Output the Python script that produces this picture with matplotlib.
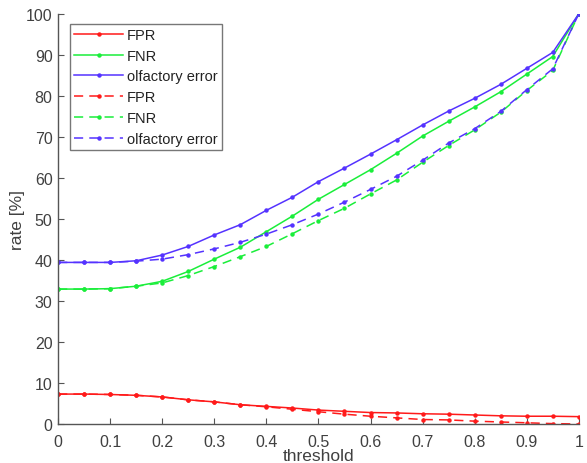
import matplotlib
matplotlib.use("Agg")
import matplotlib.pyplot as plt
import numpy as np

plt.rcParams['font.family'] = ['Liberation Sans', 'DejaVu Sans']

threshold = [0, 0.05, 0.1, 0.15, 0.2, 0.25, 0.3, 0.35, 0.4, 0.45, 0.5,
             0.55, 0.6, 0.65, 0.7, 0.75, 0.8, 0.85, 0.9, 0.95, 1.0]

fpr_a = [7.3, 7.3, 7.2, 7.0, 6.6, 5.9, 5.4, 4.7, 4.3, 3.9, 3.4,
         3.1, 2.8, 2.7, 2.5, 2.4, 2.2, 2.0, 1.9, 1.9, 1.8]
fnr_a = [32.9, 32.9, 33.0, 33.6, 34.8, 37.2, 40.2, 43.1, 46.9, 50.7, 54.8,
         58.4, 62.0, 66.0, 70.2, 73.8, 77.3, 81.0, 85.3, 89.6, 100.0]
olf_a = [39.4, 39.4, 39.4, 39.8, 41.2, 43.3, 46.1, 48.6, 52.1, 55.3, 59.1,
         62.4, 65.8, 69.3, 72.9, 76.3, 79.4, 82.8, 86.7, 90.6, 100.0]

fpr_b = [7.3, 7.3, 7.2, 7.0, 6.6, 5.9, 5.4, 4.7, 4.2, 3.6, 3.0,
         2.4, 1.9, 1.5, 1.1, 1.0, 0.7, 0.5, 0.3, 0.1, 0.0]
fnr_b = [32.9, 32.9, 33.0, 33.6, 34.4, 36.2, 38.4, 40.8, 43.3, 46.4, 49.6,
         52.6, 56.1, 59.5, 63.8, 67.9, 71.7, 76.0, 81.3, 86.2, 100.0]
olf_b = [39.4, 39.4, 39.4, 39.7, 40.2, 41.3, 42.7, 44.3, 46.3, 48.6, 51.2,
         54.1, 57.2, 60.4, 64.3, 68.5, 72.0, 76.2, 81.5, 86.6, 100.0]

labels = ["FPR", "FNR", "olfactory error"]
red, green, blue = '#ff1a1a', '#1aee3a', '#5533ff'

fig = plt.figure(figsize=(5.87, 4.64), dpi=100)
ax = fig.add_axes([0.099, 0.084, 0.887, 0.884])

kw = dict(marker='o', markersize=2.2, linewidth=1.1)
ax.plot(threshold, fpr_a, '-', color=red, label=labels[0], **kw)
ax.plot(threshold, fnr_a, '-', color=green, label=labels[1], **kw)
ax.plot(threshold, olf_a, '-', color=blue, label=labels[2], **kw)
ax.plot(threshold, fpr_b, '--', color=red, label=labels[0], dashes=(6, 4), **kw)
ax.plot(threshold, fnr_b, '--', color=green, label=labels[1], dashes=(6, 4), **kw)
ax.plot(threshold, olf_b, '--', color=blue, label=labels[2], dashes=(6, 4), **kw)

ax.set_xlim(0, 1)
ax.set_ylim(0, 100)
ax.set_xticks(np.arange(0, 1.01, 0.1))
ax.set_xticklabels(['0', '0.1', '0.2', '0.3', '0.4', '0.5', '0.6', '0.7', '0.8', '0.9', '1'])
ax.set_yticks(np.arange(0, 101, 10))
for s in ['top', 'right']:
    ax.spines[s].set_visible(False)
for s in ['left', 'bottom']:
    ax.spines[s].set_color('#555555')
    ax.spines[s].set_linewidth(1.0)
ax.tick_params(direction='in', length=4, color='#555555', labelsize=11.5,
               labelcolor='#404040')
ax.tick_params(axis='x', pad=7.5)
ax.tick_params(axis='y', pad=4)
ax.set_xlabel('threshold', fontsize=12.5, color='#404040', labelpad=-1)
ax.set_ylabel('rate [%]', fontsize=12.5, color='#404040', labelpad=1)

leg = ax.legend(loc='upper left', bbox_to_anchor=(0.023, 0.976), fontsize=10.5,
                frameon=True, fancybox=False, edgecolor='#555555',
                handlelength=3.3, handletextpad=0.3, labelspacing=0.46,
                borderpad=0.3, borderaxespad=0)
leg.get_frame().set_linewidth(1.0)
for t in leg.get_texts():
    t.set_color('#222222')

fig.savefig('out.png', dpi=100)
